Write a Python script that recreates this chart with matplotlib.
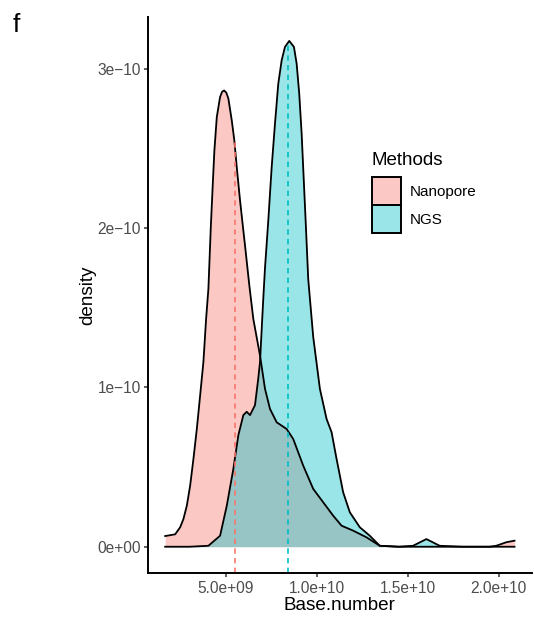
import matplotlib
matplotlib.use("Agg")
import matplotlib.pyplot as plt
from matplotlib.patches import Patch
import numpy as np

plt.rcParams['font.family'] = ['Liberation Sans', 'DejaVu Sans']

# values; x in units of 1e9 bases, density in units of 1e-10
nano_x = [1.672, 2.220, 2.494, 2.675, 2.862, 3.043, 3.224, 3.410, 3.591, 3.772, 3.920,
          4.046, 4.178, 4.287, 4.375, 4.507, 4.688, 4.800, 4.907, 5.030, 5.143, 5.329,
          5.471, 5.603, 5.784, 5.965, 6.058, 6.294, 6.513, 6.881, 7.155, 7.429, 7.796,
          8.344, 8.706, 9.254, 9.803, 10.351, 10.899, 11.360, 11.996, 12.730, 13.459,
          14.5, 16.0, 18.0, 19.5, 19.857, 20.406, 20.861]
nano_y = [0.067, 0.078, 0.122, 0.174, 0.258, 0.383, 0.551, 0.739, 0.948, 1.160, 1.430,
          1.619, 2.006, 2.278, 2.487, 2.697, 2.823, 2.856, 2.864, 2.850, 2.813, 2.676,
          2.550, 2.383, 2.173, 1.985, 1.890, 1.640, 1.430, 1.200, 0.991, 0.865, 0.781,
          0.739, 0.676, 0.509, 0.363, 0.279, 0.195, 0.132, 0.101, 0.059, 0.006,
          0.0, 0.0, 0.0, 0.0, 0.006, 0.028, 0.038]

ngs_x = [1.672, 3.0, 4.046, 4.688, 5.055, 5.417, 5.691, 5.965, 6.151, 6.332, 6.606,
         6.787, 6.881, 6.974, 7.062, 7.155, 7.336, 7.522, 7.703, 7.884, 8.070, 8.251,
         8.487, 8.745, 8.893, 9.035, 9.167, 9.293, 9.403, 9.529, 9.803, 10.170, 10.537,
         10.811, 11.086, 11.447, 11.815, 12.363, 12.911, 13.459, 14.5, 15.285, 16.020,
         16.749, 18.0, 20.861]
ngs_y = [0.0, 0.0, 0.006, 0.069, 0.257, 0.489, 0.700, 0.826, 0.847, 0.826, 0.889,
         1.058, 1.160, 1.367, 1.560, 1.750, 2.048, 2.383, 2.655, 2.906, 3.053, 3.137,
         3.175, 3.137, 3.032, 2.844, 2.593, 2.279, 2.006, 1.680, 1.317, 0.991, 0.802,
         0.719, 0.551, 0.342, 0.216, 0.122, 0.069, 0.006, 0.0, 0.006, 0.048,
         0.006, 0.0, 0.0]

methods = ["Nanopore", "NGS"]
colors = ["#F8766D", "#00BFC4"]
means = [5.482, 8.443]
mean_dens = [2.56, 3.168]

xticks = [5.0, 10.0, 15.0, 20.0]
xlabels = ["5.0e+09", "1.0e+10", "1.5e+10", "2.0e+10"]
yticks = [0, 1, 2, 3]
ylabels = ["0e+00", "1e\u221210", "2e\u221210", "3e\u221210"]

fig = plt.figure(figsize=(5.34, 6.19), dpi=100)
ax = fig.add_axes([147.7 / 534, 1 - 572.7 / 619, (532 - 147.7) / 534, (572.7 - 17) / 619])

curves = [(np.array(nano_x) * 1e9, np.array(nano_y) * 1e-10),
          (np.array(ngs_x) * 1e9, np.array(ngs_y) * 1e-10)]
for (x, y), c in zip(curves, colors):
    ax.fill_between(x, 0, y, color=c, alpha=0.4, linewidth=0)
    ax.plot(x, y, color="black", lw=1.3, solid_joinstyle="round")

ymin = -0.163e-10
for m, d, c in zip(means, mean_dens, colors):
    ax.plot([m * 1e9, m * 1e9], [ymin, d * 1e-10], color=c, lw=1.2, linestyle=(0, (3.2, 2.6)))

ax.set_xlim(0.712e9, 21.82e9)
ax.set_ylim(ymin, 3.325e-10)

ax.set_xticks([v * 1e9 for v in xticks])
ax.set_xticklabels(xlabels)
ax.set_yticks([v * 1e-10 for v in yticks])
ax.set_yticklabels(ylabels)
ax.tick_params(labelsize=11.2, labelcolor="#4D4D4D", color="#333333", length=3, width=1.1)
ax.tick_params(axis="y", pad=1.8)
ax.tick_params(axis="x", pad=3)

for s in ["top", "right"]:
    ax.spines[s].set_visible(False)
for s in ["left", "bottom"]:
    ax.spines[s].set_linewidth(1.4)

ax.set_ylabel("density", fontsize=13.6, va="center")
ax.yaxis.set_label_coords(-0.156, 0.5)
ax.set_xlabel("Base.number", fontsize=13.6, va="center")
ax.xaxis.set_label_coords(0.5, -0.0594)

# legend keys: alpha-blended fill on white with a black border
handles = []
for c in colors:
    rgb = np.array(matplotlib.colors.to_rgb(c))
    handles.append(Patch(facecolor=0.4 * rgb + 0.6, edgecolor="black", linewidth=1.4))
leg = ax.legend(handles, methods, loc="upper left",
                bbox_to_anchor=(372.3 / 534, 1 - 177.3 / 619), bbox_transform=fig.transFigure,
                frameon=False, fontsize=11,
                handlelength=1.85, handleheight=2.44, labelspacing=0.0,
                handletextpad=0.62, borderpad=0, borderaxespad=0)
fig.text(371.7 / 534, 1 - 165 / 619, "Methods", fontsize=13.5, va="baseline")

fig.text(13 / 534, 1 - 32 / 619, "f", fontsize=19, va="baseline")

fig.savefig("out.png", dpi=100)
